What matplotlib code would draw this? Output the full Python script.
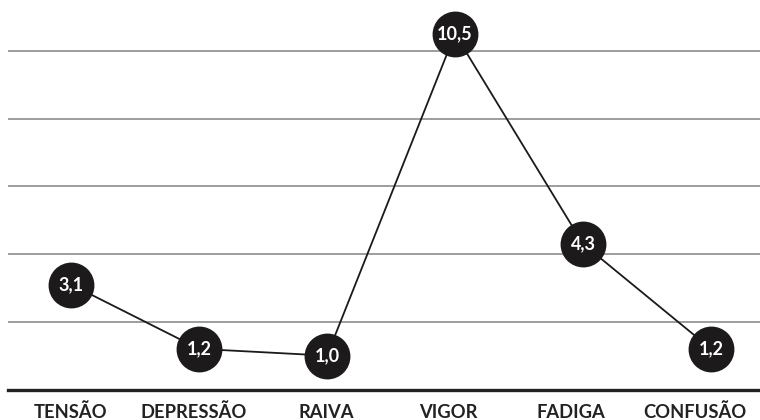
import matplotlib
matplotlib.use("Agg")
import matplotlib.pyplot as plt

categories = ["TENSÃO", "DEPRESSÃO", "RAIVA", "VIGOR", "FADIGA", "CONFUSÃO"]
values = [3.1, 1.2, 1.0, 10.5, 4.3, 1.2]
value_labels = ["3,1", "1,2", "1,0", "10,5", "4,3", "1,2"]
grid_values = [2, 4, 6, 8, 10]

# horizontal nudge of the category labels (pixels), as in the reference layout
label_shift_px = [0, -5.7, -0.5, -6.7, -12, -16]

plt.rcParams['font.family'] = ['Lato', 'DejaVu Sans']

W, H = 760, 420
fig = plt.figure(figsize=(W / 100, H / 100), dpi=100)
base_px = 389.5
left_px = 8
ax = fig.add_axes([left_px / W, (H - base_px) / H, (W - left_px) / W, base_px / H])
px_per_unit = 33.87
ax.set_ylim(0, base_px / px_per_unit)
x0, dx = 71, 128
ax.set_xlim((left_px - x0) / dx, (W - x0) / dx)

for g in grid_values:
    ax.axhline(g, color="#8c8c8c", lw=1.2, zorder=1)
ax.axhline(0, color="#222222", lw=2.4, zorder=2, clip_on=False)

xs = list(range(len(categories)))
ax.plot(xs, values, color="#1a1a1a", lw=1.3, zorder=3, clip_on=False)
ax.plot(xs, values, 'o', ms=32, color="#1c1a1b", mec="#1c1a1b", zorder=4, clip_on=False)
for x, v, lab in zip(xs, values, value_labels):
    ax.text(x, v, lab, color="white", fontsize=13, fontweight="bold",
            ha="center", va="center", zorder=5)

for x, c, sh in zip(xs, categories, label_shift_px):
    ax.annotate(c, xy=(x, 0), xytext=(sh * 0.72, -20.8), textcoords="offset points",
                ha="center", va="baseline", fontsize=13.2, fontweight="bold",
                color="#222222", annotation_clip=False)

for s in ax.spines.values():
    s.set_visible(False)
ax.set_xticks([])
ax.set_yticks([])
ax.patch.set_alpha(0)

fig.savefig("out.png", dpi=100, facecolor="white")
